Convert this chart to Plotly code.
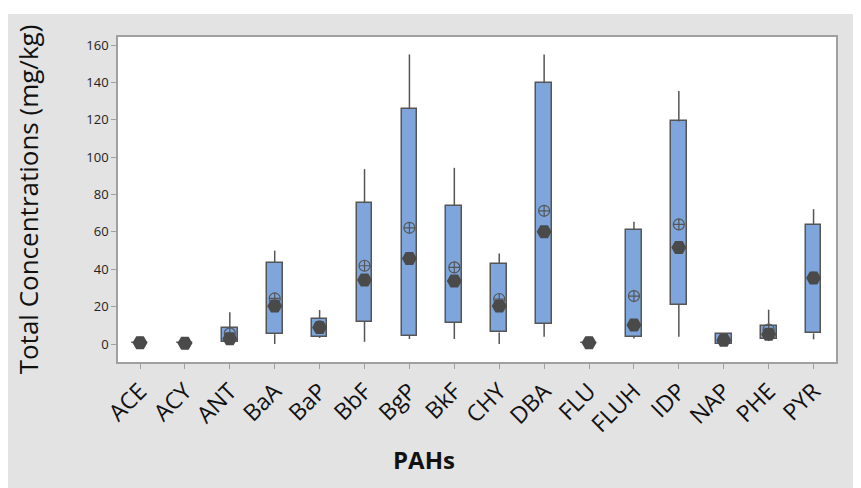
import plotly.graph_objects as go

categories = ["ACE", "ACY", "ANT", "BaA", "BaP", "BbF", "BgP", "BkF", "CHY", "DBA",
              "FLU", "FLUH", "IDP", "NAP", "PHE", "PYR"]
lower = [0.7, 0.4, 1.2, 0.0, 3.2, 1.2, 2.7, 2.7, 0.0, 3.9, 0.7, 3.0, 3.9, 0.0, 1.6, 2.5]
q1 = [0.7, 0.4, 1.2, 5.3, 3.9, 11.9, 4.3, 11.4, 6.2, 10.9, 0.7, 3.9, 20.9, 0.0, 2.7, 5.7]
median = [0.7, 0.4, 2.8, 20.3, 8.9, 34.3, 45.8, 33.7, 20.3, 60.1, 0.7, 10.2, 51.7, 2.1, 5.2, 35.3]
q3 = [0.7, 0.4, 8.7, 43.5, 13.4, 75.4, 125.7, 74.0, 43.0, 139.5, 0.7, 61.2, 119.1, 5.3, 9.5, 63.8]
upper = [0.7, 0.4, 17.0, 50.0, 18.2, 93.6, 155.0, 94.3, 48.5, 155.0, 0.7, 65.4, 135.4, 5.3, 18.4, 72.2]
mean = [0.8, 0.5, 5.7, 24.4, 9.5, 41.9, 62.2, 41.0, 24.1, 71.3, 0.8, 25.7, 64.0, 2.6, 7.8, 35.5]

x_title = "PAHs"
y_title = "Total Concentrations (mg/kg)"

dark = "#555555"
fill = "#7ea6dc"
grey_bg = "#e3e3e3"

fig = go.Figure()

# whiskers
wx, wy = [], []
for c, lo, a, b, hi in zip(categories, lower, q1, q3, upper):
    wx += [c, c, None, c, c, None]
    wy += [b, hi, None, a, lo, None]
fig.add_trace(go.Scatter(x=wx, y=wy, mode="lines", line=dict(color=dark, width=1.5),
                         hoverinfo="skip", showlegend=False))

# boxes
fig.add_trace(go.Bar(x=categories, y=[b - a for a, b in zip(q1, q3)], base=q1, width=0.35,
                     marker=dict(color=fill, line=dict(color=dark, width=1.5)),
                     showlegend=False))

# mean symbols
fig.add_trace(go.Scatter(x=categories, y=mean, mode="markers",
                         marker=dict(symbol="circle-cross-open", size=11,
                                     line=dict(color=dark, width=1.2), color=dark),
                         showlegend=False))
# median symbols
fig.add_trace(go.Scatter(x=categories, y=median, mode="markers",
                         marker=dict(symbol="hexagon2", size=15, color="#4a4a4a",
                                     line=dict(width=0)),
                         showlegend=False))

font_family = "Open Sans, Noto Sans, DejaVu Sans, sans-serif"

fig.update_layout(
    width=853, height=480,
    margin=dict(l=110, r=25, t=29, b=126),
    paper_bgcolor=grey_bg,
    plot_bgcolor="white",
    font=dict(family=font_family, color="#111111"),
    bargap=0,
    shapes=[
        dict(type="rect", xref="paper", yref="paper", x0=-0.3, x1=1.1,
             y0=1.0708, y1=1.2, fillcolor="white", line=dict(width=0), layer="below"),
    ],
    annotations=[
        dict(text="<b>" + x_title + "</b>", xref="paper", yref="paper", x=0.426, y=-0.3015,
             xanchor="center", yanchor="middle", showarrow=False,
             font=dict(size=24, color="#111111")),
    ],
    xaxis=dict(
        type="category", range=[-0.49, 15.5],
        showline=True, linecolor="#a0a0a0", linewidth=1.5, mirror=True,
        ticks="outside", ticklen=5, tickcolor="#a0a0a0",
        tickangle=-45, tickfont=dict(size=23, color="#111111"),
        showgrid=False,
    ),
    yaxis=dict(
        range=[-9.6, 164.3],
        tickvals=[0, 20, 40, 60, 80, 100, 120, 140, 160],
        showline=True, linecolor="#a0a0a0", linewidth=1.5, mirror=True,
        ticks="outside", ticklen=5, tickcolor="#a0a0a0",
        tickfont=dict(size=13, color="#222222"),
        showgrid=False, zeroline=False,
        title=dict(text=y_title, font=dict(size=26, color="#111111"), standoff=40),
    ),
)

fig.write_html("out.html")
